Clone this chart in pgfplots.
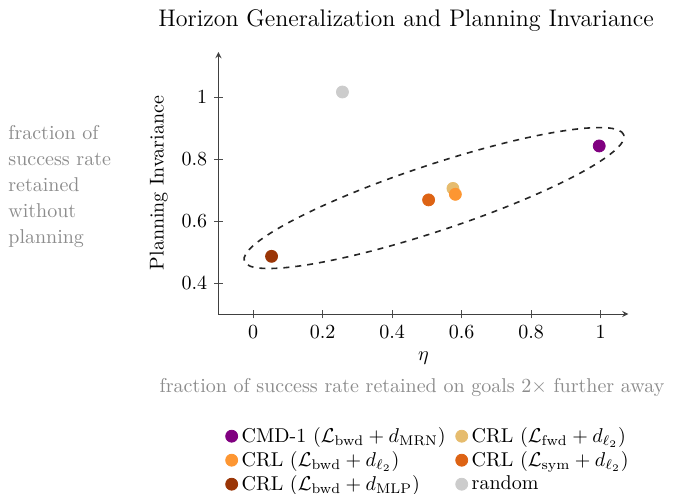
\documentclass[border=0pt]{standalone}
\usepackage{pgfplots}
\pgfplotsset{compat=1.18}
\definecolor{cpurple}{RGB}{128,0,128}
\definecolor{ctan}{RGB}{230,188,110}
\definecolor{corange}{RGB}{253,150,50}
\definecolor{cdorange}{RGB}{221,99,20}
\definecolor{cbrown}{RGB}{154,53,6}
\definecolor{cgray}{RGB}{204,204,204}
\definecolor{lblgray}{RGB}{140,140,140}
\begin{document}
\begin{tikzpicture}
\useasboundingbox (0,0) rectangle (347pt,246.5pt);
\begin{axis}[
  at={(109.2pt,89.5pt)}, anchor=south west,
  scale only axis, width=205pt, height=131pt,
  axis lines=left,
  xmin=-0.1, xmax=1.08, ymin=0.3, ymax=1.145,
  xtick={0,0.2,0.4,0.6,0.8,1}, ytick={0.4,0.6,0.8,1},
  xlabel={$\eta$}, ylabel={Planning Invariance},
  tick style={black!70},
  axis line style={black!75},
  legend columns=2,
  legend style={at={(0.514,-0.40)}, anchor=north, draw=none, fill=none,
    /tikz/every even column/.append style={column sep=3pt},
    row sep=-1pt, font=\normalsize},
  legend cell align=left,
  every axis plot/.append style={only marks, mark=*, mark size=3pt},
]
\addplot[color=cpurple] coordinates {(0.996,0.842)};
\addlegendentry{CMD-1 ($\mathcal{L}_{\mathrm{bwd}} + d_{\mathrm{MRN}}$)}
\addplot[color=ctan] coordinates {(0.575,0.705)};
\addlegendentry{CRL ($\mathcal{L}_{\mathrm{fwd}} + d_{\ell_2}$)}
\addplot[color=corange] coordinates {(0.582,0.686)};
\addlegendentry{CRL ($\mathcal{L}_{\mathrm{bwd}} + d_{\ell_2}$)}
\addplot[color=cdorange] coordinates {(0.505,0.668)};
\addlegendentry{CRL ($\mathcal{L}_{\mathrm{sym}} + d_{\ell_2}$)}
\addplot[color=cbrown] coordinates {(0.053,0.486)};
\addlegendentry{CRL ($\mathcal{L}_{\mathrm{bwd}} + d_{\mathrm{MLP}}$)}
\addplot[color=cgray] coordinates {(0.257,1.016)};
\addlegendentry{random}
\coordinate (ec) at (axis cs:0.5206,0.674);
\end{axis}
\draw[dashed, thick, black!85, rotate around={18.4:(ec)}] (ec) ellipse [x radius=100pt, y radius=16.5pt];
\node[anchor=base, font=\large] at (203pt,233pt) {Horizon Generalization and Planning Invariance};
\node[anchor=north west, align=left, inner sep=0pt, text=lblgray, font=\fontsize{10}{13}\selectfont] at (4pt,184pt)
  {fraction of\\success rate\\retained\\without\\planning};
\node[text=lblgray, inner sep=0pt] at (206pt,52.5pt) {fraction of success rate retained on goals $2\times$ further away};
\end{tikzpicture}
\end{document}
